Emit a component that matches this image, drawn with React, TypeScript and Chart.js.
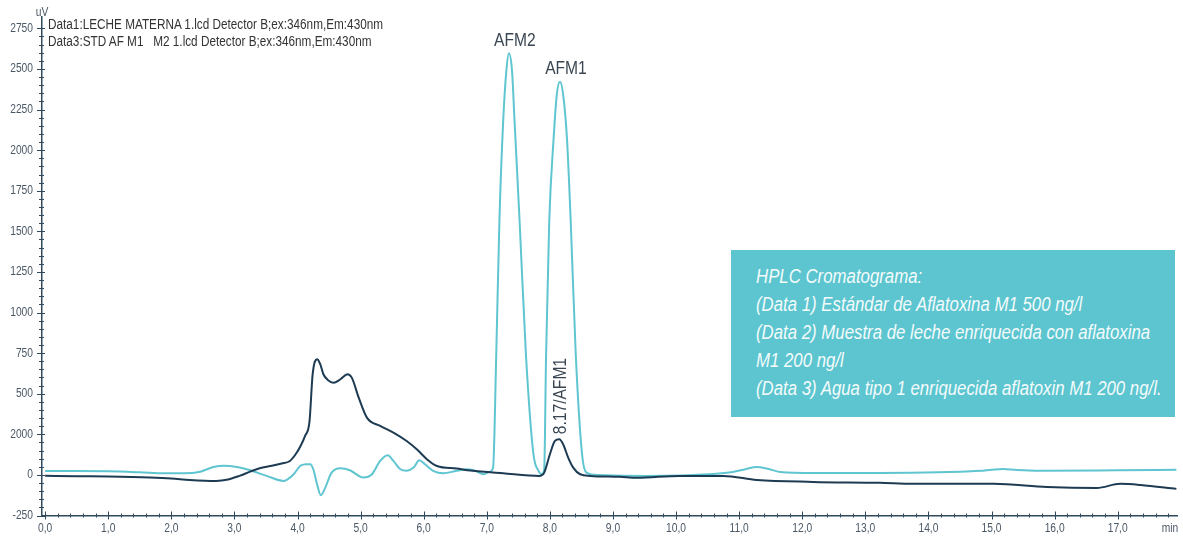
import React, { useEffect, useRef } from 'react';
import { Chart, registerables } from 'chart.js';

Chart.register(...registerables);

// ---------- data ----------
// Data3: STD AF M1 / M2 (teal)
const stdTimes = [
  0.0, 0.5, 1.0, 1.5, 1.9, 2.2, 2.46, 2.67, 2.83, 3.04, 3.25, 3.51, 3.78, 3.94, 4.04, 4.12, 4.2, 4.25,
  4.31, 4.37, 4.44, 4.54, 4.68, 4.83, 5.04, 5.18, 5.31, 5.43, 5.52, 5.63, 5.73, 5.84, 5.93, 6.02, 6.15,
  6.31, 6.52, 6.68, 6.8, 6.95, 7.05, 7.1, 7.15, 7.2, 7.26, 7.31, 7.35, 7.4, 7.44, 7.52, 7.62, 7.74, 7.82,
  7.87, 7.91, 7.94, 7.99, 8.06, 8.11, 8.16, 8.21, 8.27, 8.33, 8.41, 8.51, 8.58, 8.74, 9.54, 10.59, 10.9,
  11.1, 11.28, 11.45, 11.65, 12.2, 12.96, 13.23, 14.82, 15.0, 15.18, 15.4, 15.77, 17.0, 17.93,
];
const stdValues = [
  24, 24, 22, 16, 10, 10, 20, 49, 57, 49, 29, -6, -37, 4, 55, 65, 66, 35,
  -57, -125, -78, 14, 41, 29, -16, 4, 86, 121, 86, 35, 25, 45, 90, 66, 25,
  10, 25, 35, 28, 4, 20, 45, 743, 1564, 2180, 2488, 2597, 2488, 2180, 1564, 743, 127, 25,
  4, 35, 743, 1564, 2077, 2344, 2422, 2344, 2077, 1564, 743, 127, 14, 0, -6, 6, 18,
  35, 49, 38, 18, 12, 12, 12, 25, 32, 37, 30, 25, 28, 31,
];

// Data1: LECHE MATERNA (dark)
const milkTimes = [
  0.0, 0.5, 1.0, 1.66, 2.0, 2.29, 2.71, 2.9, 3.08, 3.25, 3.4, 3.57, 3.75, 3.88, 3.97, 4.05, 4.12, 4.19,
  4.24, 4.31, 4.36, 4.41, 4.48, 4.57, 4.68, 4.79, 4.86, 4.97, 5.1, 5.31, 5.52, 5.73, 5.89, 6.05, 6.21,
  6.52, 6.74, 7.26, 7.84, 7.91, 8.0, 8.08, 8.15, 8.21, 8.29, 8.37, 8.48, 8.64, 9.11, 9.38, 10.06, 10.75,
  11.28, 12.17, 13.23, 13.76, 15.03, 15.88, 16.67, 17.04, 17.36, 17.93,
];
const milkValues = [
  -5, -8, -10, -16, -22, -31, -37, -28, -6, 20, 41, 55, 70, 86, 127, 180, 240, 330,
  620, 712, 682, 620, 585, 568, 589, 620, 599, 476, 353, 302, 261, 209, 158, 97, 55,
  39, 27, 10, -6, 14, 127, 209, 220, 189, 107, 45, 4, -6, -12, -18, -6, -6,
  -31, -43, -49, -55, -55, -74, -80, -55, -62, -86,
];

const xTickValues = [0, 1, 2, 3, 4, 5, 6, 7, 8, 9, 10, 11, 12, 13, 14, 15, 16, 17];
const xTickLabels = ['0,0', '1,0', '2,0', '3,0', '4,0', '5,0', '6,0', '7,0', '8,0', '9,0', '10,0', '11,0', '12,0', '13,0', '14,0', '15,0', '16,0', '17,0'];
const xUnitLabel = 'min';
const yTickValues = [-250, 0, 250, 500, 750, 1000, 1250, 1500, 1750, 2000, 2250, 2500, 2750];
const yTickLabels = ['-250', '0', '2000', '500', '750', '1000', '1250', '1500', '1750', '2000', '2250', '2500', '2750'];
const yUnitLabel = 'uV';

const headerLines = [
  'Data1:LECHE MATERNA 1.lcd Detector B;ex:346nm,Em:430nm',
  'Data3:STD AF M1\u00a0\u00a0\u00a0M2 1.lcd Detector B;ex:346nm,Em:430nm',
];
const boxLines = [
  'HPLC Cromatograma:',
  '(Data 1) Estándar de Aflatoxina M1 500 ng/l',
  '(Data 2) Muestra de leche enriquecida con aflatoxina',
  'M1 200 ng/l',
  '(Data 3) Agua tipo 1 enriquecida aflatoxin M1 200 ng/l.',
];
const stdPeakNames = ['AFM2', 'AFM1'];
const stdPeakTimes = [7.35, 8.16];
const stdPeakValues = [2597, 2422];
const milkPeakName = '8.17/AFM1';
const milkPeakTime = 8.17;
const milkPeakValue = 220;

// ---------- styles ----------
const FONT = '"Liberation Sans", Arial, sans-serif';
const SQUEEZE = 0.82;
const TEAL = '#5fc5d0';
const DARK = '#1d3b52';
const AXIS = '#2f4a5e';
const LABEL = '#4a5866';
const BOX = '#5cc5cf';

function condensedText(ctx: CanvasRenderingContext2D, text: string, x: number, y: number, align: CanvasTextAlign) {
  ctx.save();
  ctx.translate(x, y);
  ctx.scale(SQUEEZE, 1);
  ctx.textAlign = align;
  ctx.fillText(text, 0, 0);
  ctx.restore();
}

const axisPlugin = {
  id: 'axisTicks',
  afterDraw(chart: any) {
    const { ctx, chartArea } = chart;
    const xs = chart.scales.x;
    const ys = chart.scales.y;
    const left = chartArea.left;
    const bottom = chartArea.bottom;
    ctx.save();
    ctx.strokeStyle = AXIS;
    ctx.lineWidth = 1;
    for (let k = 0; k <= 60; k++) {
      const v = -250 + k * 50;
      const major = k % 5 === 0;
      const py = Math.round(ys.getPixelForValue(v)) + 0.5;
      ctx.beginPath();
      ctx.moveTo(left - (major ? 5 : 3), py);
      ctx.lineTo(left + (major ? 3 : 2), py);
      ctx.stroke();
    }
    for (let k = 0; k <= 89; k++) {
      const v = k * 0.2;
      const major = k % 5 === 0;
      const px = Math.round(xs.getPixelForValue(v)) + 0.5;
      ctx.beginPath();
      ctx.moveTo(px, bottom - (major ? 4 : 2));
      ctx.lineTo(px, bottom + (major ? 4 : 2));
      ctx.stroke();
    }
    // tick labels (condensed type, positioned by the chart scales)
    ctx.fillStyle = LABEL;
    ctx.font = `12.5px ${FONT}`;
    ctx.textBaseline = 'middle';
    yTickValues.forEach((v, i) => {
      condensedText(ctx, yTickLabels[i], left - 9, ys.getPixelForValue(v), 'right');
    });
    xTickValues.forEach((v, i) => {
      condensedText(ctx, xTickLabels[i], xs.getPixelForValue(v), bottom + 13, 'center');
    });
    condensedText(ctx, xUnitLabel, xs.getPixelForValue(17.83), bottom + 13, 'center');
    condensedText(ctx, yUnitLabel, left, ys.getPixelForValue(2750) - 16, 'center');
    ctx.restore();
  },
};

const peakLabelPlugin = {
  id: 'peakLabels',
  afterDatasetsDraw(chart: any) {
    const { ctx } = chart;
    const xs = chart.scales.x;
    const ys = chart.scales.y;
    ctx.save();
    ctx.fillStyle = '#3a4753';
    ctx.font = `19px ${FONT}`;
    ctx.textBaseline = 'bottom';
    stdPeakNames.forEach((name, i) => {
      const px = xs.getPixelForValue(stdPeakTimes[i]) + 6;
      const py = ys.getPixelForValue(stdPeakValues[i]) - 3;
      condensedText(ctx, name, px, py, 'center');
    });
    const mx = xs.getPixelForValue(milkPeakTime);
    const my = ys.getPixelForValue(milkPeakValue) - 5;
    ctx.translate(mx, my);
    ctx.rotate(-Math.PI / 2);
    ctx.textBaseline = 'middle';
    condensedText(ctx, milkPeakName, 0, 0, 'left');
    ctx.restore();
  },
};

export default function App() {
  const canvasRef = useRef<HTMLCanvasElement | null>(null);

  useEffect(() => {
    const canvas = canvasRef.current;
    if (!canvas) return;
    const chart = new Chart(canvas, {
      type: 'line',
      data: {
        datasets: [
          {
            label: 'Data1',
            data: milkTimes.map((t, i) => ({ x: t, y: milkValues[i] })),
            borderColor: DARK,
            borderWidth: 2,
            pointRadius: 0,
            fill: false,
            cubicInterpolationMode: 'monotone',
            order: 0,
          },
          {
            label: 'Data3',
            data: stdTimes.map((t, i) => ({ x: t, y: stdValues[i] })),
            borderColor: TEAL,
            borderWidth: 2,
            pointRadius: 0,
            fill: false,
            cubicInterpolationMode: 'monotone',
            order: 1,
          },
        ],
      },
      options: {
        animation: false,
        responsive: false,
        devicePixelRatio: 1,
        events: [],
        layout: { padding: { top: 17, right: 6, left: 0, bottom: 0 }, autoPadding: false },
        plugins: { legend: { display: false }, tooltip: { enabled: false } },
        scales: {
          x: {
            type: 'linear',
            min: -0.05,
            max: 17.94,
            grid: { display: false, drawTicks: false },
            border: { display: true, color: AXIS, width: 1.5 },
            afterBuildTicks: (s: any) => {
              s.ticks = xTickValues.map((v) => ({ value: v }));
            },
            afterFit: (s: any) => {
              s.height = 22.5;
            },
            ticks: { display: false },
          },
          y: {
            type: 'linear',
            min: -250,
            max: 2820,
            grid: { display: false, drawTicks: false },
            border: { display: true, color: AXIS, width: 1.5 },
            afterBuildTicks: (s: any) => {
              s.ticks = yTickValues.map((v) => ({ value: v }));
            },
            afterFit: (s: any) => {
              s.width = 42;
            },
            ticks: { display: false },
          },
        },
      },
      plugins: [axisPlugin, peakLabelPlugin],
    } as any);
    return () => chart.destroy();
  }, []);

  return (
    <div style={{ position: 'fixed', left: 0, top: 0, width: 1183, height: 538, background: '#fff', overflow: 'hidden' }}>
      <canvas ref={canvasRef} width={1183} height={538} style={{ position: 'absolute', left: 0, top: 0, width: 1183, height: 538 }} />
      <div
        style={{
          position: 'absolute',
          left: 48,
          top: 16,
          font: `14px ${FONT}`,
          color: '#333',
          lineHeight: '17px',
          whiteSpace: 'pre',
          transform: 'scaleX(0.84)',
          transformOrigin: '0 0',
        }}
      >
        {headerLines.map((l, i) => (
          <div key={i}>{l}</div>
        ))}
      </div>
      <div
        style={{
          position: 'absolute',
          left: 731,
          top: 250,
          width: 444,
          height: 167,
          background: BOX,
        }}
      >
        <div
          style={{
            position: 'absolute',
            left: 25,
            top: 11.5,
            color: '#f4fbfc',
            font: `italic 20px ${FONT}`,
            lineHeight: '28px',
            whiteSpace: 'nowrap',
            transform: 'scaleX(0.84)',
            transformOrigin: '0 0',
          }}
        >
          {boxLines.map((l, i) => (
            <div key={i}>{l}</div>
          ))}
        </div>
      </div>
    </div>
  );
}
